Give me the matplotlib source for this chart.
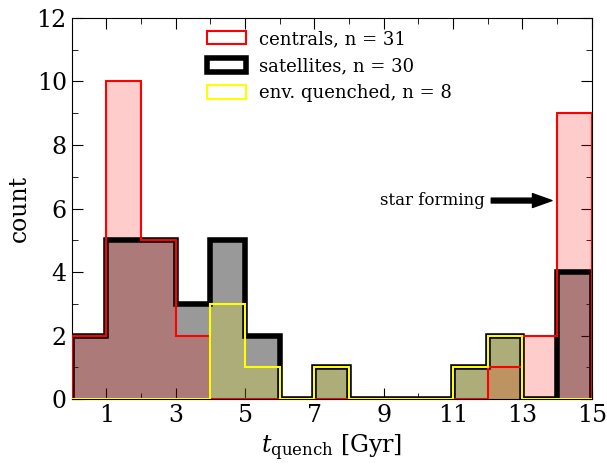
import numpy as np
import matplotlib.pyplot as plt
from matplotlib.patches import Patch

plt.rcParams['font.family'] = 'DejaVu Serif'
plt.rcParams['mathtext.fontset'] = 'dejavuserif'

# Histogram counts per 1 Gyr bin (0-15 Gyr)
bin_edges = np.arange(0, 16, 1)
centrals = [2, 10, 5, 2, 0, 0, 0, 0, 0, 0, 0, 0, 1, 2, 9]
satellites = [2, 5, 5, 3, 5, 2, 0, 1, 0, 0, 0, 1, 2, 0, 4]
env_quenched = [0, 0, 0, 0, 3, 1, 0, 1, 0, 0, 0, 1, 2, 0, 0]

centers = bin_edges[:-1] + 0.5

fig, ax = plt.subplots(figsize=(6.07, 4.67), dpi=100)
fig.subplots_adjust(left=0.118, right=0.975, top=0.962, bottom=0.145)

# filled parts
ax.hist(centers, bins=bin_edges, weights=satellites, histtype='stepfilled',
        color='black', alpha=0.4, zorder=1)
ax.hist(centers, bins=bin_edges, weights=centrals, histtype='stepfilled',
        color='red', alpha=0.2, zorder=2)
ax.hist(centers, bins=bin_edges, weights=env_quenched, histtype='stepfilled',
        color='yellow', alpha=0.2, zorder=3)
# outlines
ax.hist(centers, bins=bin_edges, weights=satellites, histtype='step',
        color='black', lw=4, zorder=4)
ax.hist(centers, bins=bin_edges, weights=centrals, histtype='step',
        color='red', lw=1.5, zorder=5)
ax.hist(centers, bins=bin_edges, weights=env_quenched, histtype='step',
        color='yellow', lw=1.5, zorder=6)

handles = [Patch(facecolor='none', edgecolor='red', lw=1.5),
           Patch(facecolor='none', edgecolor='black', lw=4),
           Patch(facecolor='none', edgecolor='yellow', lw=1.5)]
labels = ['centrals, n = 31', 'satellites, n = 30', 'env. quenched, n = 8']
ax.legend(handles, labels, loc='upper center', frameon=False, fontsize=13,
          handlelength=2.2, handleheight=0.75, handletextpad=0.7,
          labelspacing=0.5, bbox_to_anchor=(0.495, 1.01))

ax.text(11.9, 6.25, 'star forming', ha='right', va='center', fontsize=12)
ax.annotate('', xy=(13.85, 6.25), xytext=(12.1, 6.25),
            arrowprops=dict(facecolor='black', edgecolor='black', width=3.5,
                            headwidth=10, headlength=14, shrink=0.0))

ax.set_xlim(0, 15)
ax.set_ylim(0, 12)
ax.set_xticks([1, 3, 5, 7, 9, 11, 13, 15])
ax.set_xticks([2, 4, 6, 8, 10, 12, 14], minor=True)
ax.set_yticks(np.arange(0, 13, 2))
ax.set_yticks(np.arange(1, 12, 2), minor=True)
ax.tick_params(which='both', direction='in', top=True, right=True, labelsize=17)
ax.tick_params(which='major', length=8)
ax.tick_params(which='minor', length=4)

ax.set_xlabel(r'$t_{\rm quench}$ [Gyr]', fontsize=17)
ax.set_ylabel('count', fontsize=17)

plt.savefig('out.png', dpi=100)
